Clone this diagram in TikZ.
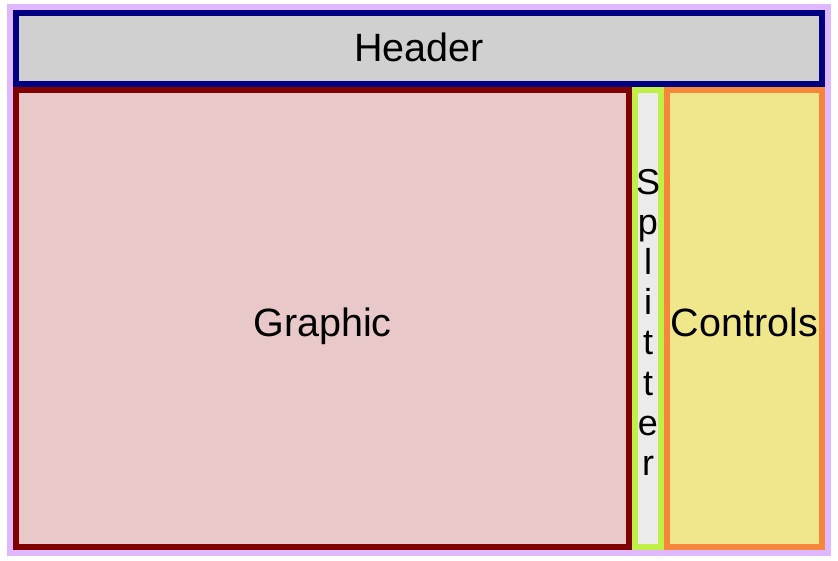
\documentclass[tikz,border=0pt]{standalone}
\usepackage{fontspec}
\setmainfont{Liberation Sans}
\definecolor{lav}{HTML}{E0B8FF}
\definecolor{navyc}{HTML}{000080}
\definecolor{hdrfill}{HTML}{D0D0D0}
\definecolor{maroonc}{HTML}{800000}
\definecolor{grfill}{HTML}{E8C8C8}
\definecolor{limec}{HTML}{C0F048}
\definecolor{splfill}{HTML}{EBEBEB}
\definecolor{orangec}{HTML}{F5873A}
\definecolor{ctlfill}{HTML}{F0E68C}
\tikzset{
  panel/.style={draw, line width=6pt, rectangle, inner sep=0pt, outer sep=0pt},
  bigtext/.style={font=\fontsize{39.5}{46}\selectfont, anchor=base, inner sep=0pt},
  spltext/.style={font=\fontsize{36}{40}\selectfont, anchor=base, inner sep=0pt}
}
\begin{document}
\begin{tikzpicture}[x=1pt,y=-1pt]
\useasboundingbox (0,0) rectangle (838,561);
\node[panel, draw=lav, fill=white, minimum width=818, minimum height=546] (frame) at (419,280) {};
\node[panel, draw=navyc, fill=hdrfill, minimum width=806, minimum height=71] (header) at (419,48.5) {};
\node[panel, draw=maroonc, fill=grfill, minimum width=613, minimum height=457] (graphic) at (322.5,318.5) {};
\node[panel, draw=limec, fill=splfill, minimum width=26, minimum height=457] (splitter) at (648,318.5) {};
\node[panel, draw=orangec, fill=ctlfill, minimum width=155, minimum height=457] (controls) at (744.5,318.5) {};
\node[bigtext] (headerlabel) at (419,62) {Header};
\node[bigtext] (graphiclabel) at (322.5,336.5) {Graphic};
\node[bigtext] (controlslabel) at (744.5,337) {Controls};
\node[spltext] (s1) at (648,195) {S};
\node[spltext] (s2) at (648,235) {p};
\node[spltext] (s3) at (648,275) {l};
\node[spltext] (s4) at (648,315) {i};
\node[spltext] (s5) at (648,355) {t};
\node[spltext] (s6) at (648,395) {t};
\node[spltext] (s7) at (648,435) {e};
\node[spltext] (s8) at (648,475) {r};
\end{tikzpicture}
\end{document}
